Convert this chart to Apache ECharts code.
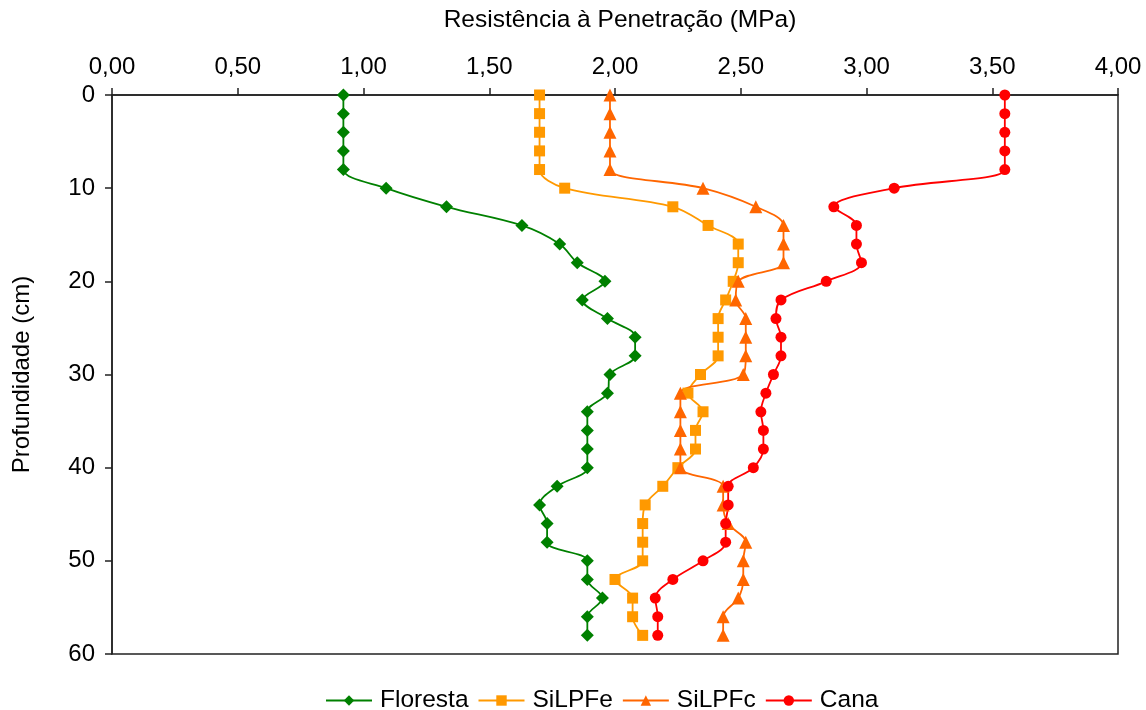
<!DOCTYPE html>
<html>
<head>
<meta charset="utf-8">
<script src="https://cdn.jsdelivr.net/npm/echarts@6/dist/echarts.min.js"></script>
<style>html,body{margin:0;padding:0;background:#fff}#c{width:1146px;height:710px}</style>
</head>
<body>
<div id="c"></div>
<script>
var depths = [0,2,4,6,8,10,12,14,16,18,20,22,24,26,28,30,32,34,36,38,40,42,44,46,48,50,52,54,56,58];
var floresta = [0.92,0.92,0.92,0.92,0.92,1.09,1.33,1.63,1.78,1.85,1.96,1.87,1.97,2.08,2.08,1.98,1.97,1.89,1.89,1.89,1.89,1.77,1.70,1.73,1.73,1.89,1.89,1.95,1.89,1.89];
var silpfe = [1.70,1.70,1.70,1.70,1.70,1.80,2.23,2.37,2.49,2.49,2.47,2.44,2.41,2.41,2.41,2.34,2.29,2.35,2.32,2.32,2.25,2.19,2.12,2.11,2.11,2.11,2.00,2.07,2.07,2.11];
var silpfc = [1.98,1.98,1.98,1.98,1.98,2.35,2.56,2.67,2.67,2.67,2.49,2.48,2.52,2.52,2.52,2.51,2.26,2.26,2.26,2.26,2.26,2.43,2.43,2.45,2.52,2.51,2.51,2.49,2.43,2.43];
var cana = [3.55,3.55,3.55,3.55,3.55,3.11,2.87,2.96,2.96,2.98,2.84,2.66,2.64,2.66,2.66,2.63,2.60,2.58,2.59,2.59,2.55,2.45,2.45,2.44,2.44,2.35,2.23,2.16,2.17,2.17];
var seriesNames = ['Floresta','SiLPFe','SiLPFc','Cana'];
var xTitle = 'Resistência à Penetração (MPa)';
var yTitle = 'Profundidade (cm)';

function pairs(vals){ return vals.map(function(v,i){ return [v, depths[i]]; }); }
var FONT = '"Liberation Sans", Arial, sans-serif';
var chart = echarts.init(document.getElementById('c'), null, {renderer:'canvas'});
function mk(name, vals, color, symbol, size){
  return {
    name: name, type: 'line', data: pairs(vals), smooth: 0.35,
    symbol: symbol, symbolSize: size, showSymbol: true,
    lineStyle: {color: color, width: 1.8},
    itemStyle: {color: color},
    emphasis: {disabled: true}, animation: false
  };
}
chart.setOption({
  animation: false,
  textStyle: {fontFamily: FONT},
  grid: {left: 112, right: 28, top: 95, bottom: 56, show: true, borderColor: '#222', borderWidth: 1.5, backgroundColor: 'transparent'},
  xAxis: {
    type: 'value', position: 'top', min: 0, max: 4, interval: 0.5,
    name: xTitle, nameLocation: 'middle', nameGap: 62,
    nameTextStyle: {fontSize: 24.5, color: '#000', fontFamily: FONT, padding: [0,0,0,10]},
    axisLine: {show: true, onZero: false, lineStyle: {color: '#222', width: 1.5}},
    axisTick: {show: true, inside: false, length: 7, lineStyle: {color: '#222', width: 1.5}},
    axisLabel: {fontSize: 24, color: '#000', margin: 16, fontFamily: FONT,
      formatter: function(v){ return v.toFixed(2).replace('.', ','); }},
    splitLine: {show: false}
  },
  yAxis: {
    type: 'value', inverse: true, min: 0, max: 60, interval: 10,
    name: yTitle, nameLocation: 'middle', nameGap: 78,
    nameTextStyle: {fontSize: 24, color: '#000', fontFamily: FONT},
    axisLine: {show: true, onZero: false, lineStyle: {color: '#222', width: 1.5}},
    axisTick: {show: true, inside: false, length: 7, lineStyle: {color: '#222', width: 1.5}},
    axisLabel: {fontSize: 24, color: '#000', margin: 17, fontFamily: FONT},
    splitLine: {show: false}
  },
  legend: {
    data: seriesNames, top: 688, left: 325, padding: 0, itemWidth: 46, itemHeight: 13, itemGap: 9,
    textStyle: {fontSize: 24.5, color: '#000', fontFamily: FONT, padding: [0,0,0,3]}
  },
  series: [
    mk(seriesNames[0], floresta, '#008000', 'diamond', 13),
    mk(seriesNames[1], silpfe, '#FF9900', 'rect', 11),
    mk(seriesNames[2], silpfc, '#FF6600', 'triangle', 13),
    mk(seriesNames[3], cana, '#FF0000', 'circle', 11)
  ]
});
</script>
</body>
</html>
